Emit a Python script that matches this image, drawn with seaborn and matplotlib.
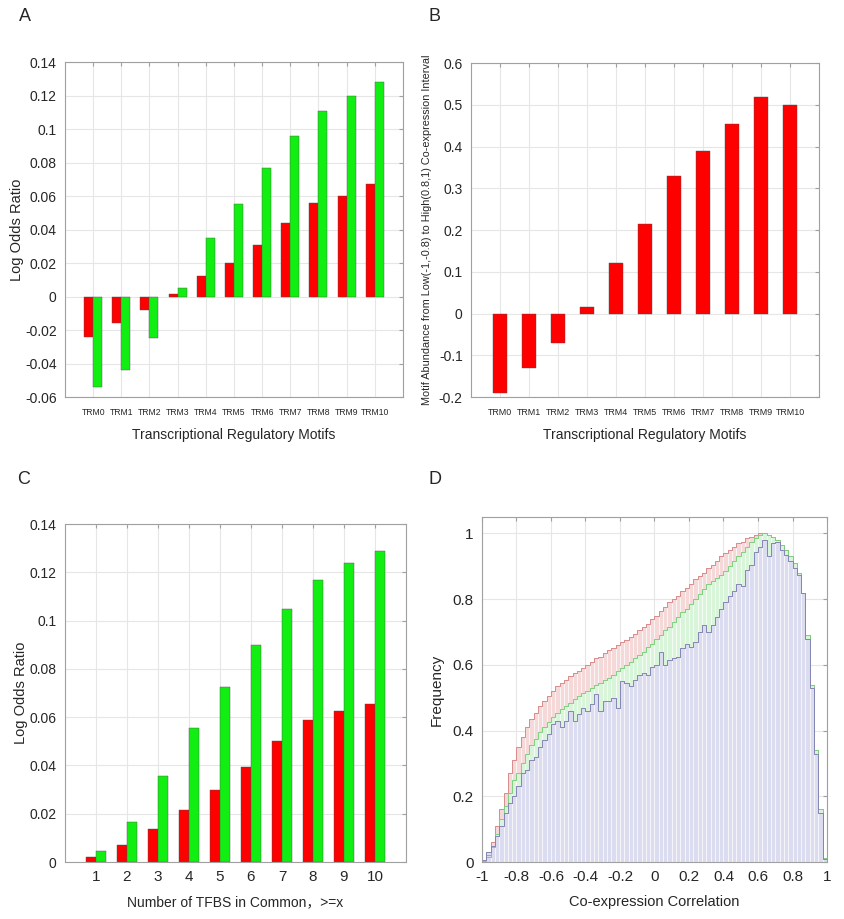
import numpy as np
import pandas as pd
import matplotlib
matplotlib.use("Agg")
import matplotlib.pyplot as plt
from matplotlib.ticker import FuncFormatter
import seaborn as sns

# Panel A: log odds ratio per motif
motifs = ["TRM0", "TRM1", "TRM2", "TRM3", "TRM4", "TRM5", "TRM6", "TRM7", "TRM8", "TRM9", "TRM10"]
a_red = [-0.024, -0.016, -0.008, 0.0015, 0.012, 0.020, 0.031, 0.044, 0.056, 0.060, 0.067]
a_green = [-0.054, -0.044, -0.025, 0.005, 0.035, 0.055, 0.077, 0.096, 0.111, 0.120, 0.128]

# Panel B: motif abundance shift
b_vals = [-0.19, -0.13, -0.07, 0.015, 0.122, 0.214, 0.33, 0.389, 0.455, 0.518, 0.499]

# Panel C: number of TFBS in common
tfbs = ["1", "2", "3", "4", "5", "6", "7", "8", "9", "10"]
c_red = [0.002, 0.007, 0.0135, 0.0215, 0.030, 0.0395, 0.050, 0.059, 0.0625, 0.0655]
c_green = [0.0045, 0.0165, 0.0355, 0.0555, 0.0725, 0.0897, 0.1047, 0.1167, 0.1237, 0.129]

# Panel D: normalised co-expression histograms, bins of 0.025 from -1 to 1
d_edges = np.linspace(-1, 1, 81).tolist()
d_red = [0.005, 0.02, 0.06, 0.11, 0.16, 0.21, 0.27, 0.31,
         0.35, 0.38, 0.41, 0.435, 0.455, 0.475, 0.49, 0.505,
         0.52, 0.535, 0.545, 0.555, 0.565, 0.575, 0.58, 0.59,
         0.60, 0.61, 0.62, 0.625, 0.635, 0.645, 0.65, 0.66,
         0.67, 0.675, 0.685, 0.695, 0.705, 0.715, 0.725, 0.74,
         0.75, 0.765, 0.775, 0.79, 0.80, 0.81, 0.825, 0.835,
         0.845, 0.86, 0.87, 0.88, 0.895, 0.905, 0.915, 0.93,
         0.94, 0.95, 0.96, 0.97, 0.975, 0.985, 0.99, 0.995,
         1.0, 1.0, 0.995, 0.99, 0.98, 0.965, 0.95, 0.93,
         0.91, 0.88, 0.82, 0.69, 0.54, 0.34, 0.16, 0.012]
d_green = [0.003, 0.015, 0.045, 0.085, 0.13, 0.17, 0.21, 0.25,
           0.27, 0.30, 0.33, 0.355, 0.375, 0.395, 0.41, 0.425,
           0.44, 0.455, 0.465, 0.475, 0.485, 0.495, 0.505, 0.515,
           0.52, 0.53, 0.54, 0.545, 0.555, 0.56, 0.57, 0.58,
           0.59, 0.60, 0.61, 0.62, 0.63, 0.64, 0.655, 0.665,
           0.68, 0.69, 0.705, 0.715, 0.73, 0.745, 0.76, 0.77,
           0.785, 0.80, 0.815, 0.83, 0.845, 0.855, 0.865, 0.875,
           0.885, 0.90, 0.915, 0.93, 0.945, 0.96, 0.975, 0.985,
           0.995, 1.0, 0.995, 0.99, 0.98, 0.965, 0.95, 0.93,
           0.91, 0.88, 0.82, 0.69, 0.54, 0.34, 0.16, 0.012]
d_blue = [0.006, 0.03, 0.05, 0.08, 0.11, 0.15, 0.18, 0.20,
          0.23, 0.27, 0.28, 0.31, 0.32, 0.35, 0.37, 0.39,
          0.42, 0.43, 0.41, 0.43, 0.46, 0.43, 0.45, 0.47,
          0.46, 0.48, 0.51, 0.46, 0.49, 0.49, 0.50, 0.47,
          0.55, 0.545, 0.535, 0.555, 0.57, 0.575, 0.57, 0.595,
          0.60, 0.64, 0.60, 0.615, 0.62, 0.625, 0.65, 0.665,
          0.655, 0.67, 0.70, 0.72, 0.70, 0.72, 0.745, 0.77,
          0.79, 0.81, 0.825, 0.845, 0.84, 0.89, 0.905, 0.945,
          0.96, 0.98, 0.93, 0.97, 0.975, 0.95, 0.935, 0.915,
          0.895, 0.875, 0.82, 0.68, 0.53, 0.33, 0.15, 0.01]

sns.set_style("white")
plt.rcParams['font.family'] = ['Liberation Sans', 'Noto Sans CJK SC', 'DejaVu Sans']

RED = "#ff0000"
GREEN = "#11ee11"
GRID = "#e6e6e6"

fig = plt.figure(figsize=(8.45, 9.19), dpi=100)
ax_a = fig.add_axes([0.0769, 0.568, 0.400, 0.3645])
ax_b = fig.add_axes([0.5574, 0.568, 0.4118, 0.3634])
ax_c = fig.add_axes([0.0769, 0.062, 0.4035, 0.3678])
ax_d = fig.add_axes([0.5704, 0.062, 0.4083, 0.3754])

tick_fmt = FuncFormatter(lambda v, p: "%g" % (round(v, 4) + 0.0))


def style_axes(ax, size=10):
    ax.set_axisbelow(True)
    ax.grid(True, color=GRID, linewidth=0.8)
    for s in ax.spines.values():
        s.set_color("#a0a0a0")
        s.set_linewidth(0.8)
    ax.tick_params(direction="in", length=3, color="#a0a0a0", top=True, right=True,
                   labelsize=size, pad=6)
    ax.yaxis.set_major_formatter(tick_fmt)


# A
df_a = pd.DataFrame({"motif": motifs * 2, "value": a_red + a_green,
                     "kind": ["red"] * 11 + ["green"] * 11})
sns.barplot(data=df_a, x="motif", y="value", hue="kind", palette=[RED, GREEN],
            width=0.64, legend=False, ax=ax_a, edgecolor="#505050", linewidth=0.3,
            saturation=1)
ax_a.set_xlim(-1, 11)
ax_a.set_ylim(-0.06, 0.14)
ax_a.set_yticks(np.arange(-0.06, 0.1401, 0.02))
style_axes(ax_a)
ax_a.tick_params(axis="x", labelsize=6.2, pad=8)
ax_a.set_xlabel("Transcriptional Regulatory Motifs", fontsize=10, labelpad=8)
ax_a.set_ylabel("Log Odds Ratio", fontsize=10.5, labelpad=1)

# B
df_b = pd.DataFrame({"motif": motifs, "value": b_vals})
sns.barplot(data=df_b, x="motif", y="value", color=RED, width=0.46, ax=ax_b,
            edgecolor="#505050", linewidth=0.3, saturation=1)
ax_b.set_xlim(-1, 11)
ax_b.set_ylim(-0.2, 0.6)
ax_b.set_yticks(np.arange(-0.2, 0.601, 0.1))
style_axes(ax_b)
ax_b.tick_params(axis="x", labelsize=6.4, pad=8)
ax_b.set_xlabel("Transcriptional Regulatory Motifs", fontsize=10, labelpad=8)
ax_b.set_ylabel("Motif Abundance from Low(-1,-0.8) to High(0.8,1) Co-expression Interval",
                fontsize=7.8, labelpad=5)

# C
df_c = pd.DataFrame({"n": tfbs * 2, "value": c_red + c_green,
                     "kind": ["red"] * 10 + ["green"] * 10})
sns.barplot(data=df_c, x="n", y="value", hue="kind", palette=[RED, GREEN],
            width=0.64, legend=False, ax=ax_c, edgecolor="#505050", linewidth=0.3,
            saturation=1)
ax_c.set_xlim(-1, 10)
ax_c.set_ylim(0, 0.14)
ax_c.set_yticks(np.arange(0, 0.1401, 0.02))
style_axes(ax_c)
ax_c.tick_params(axis="x", labelsize=11)
ax_c.set_xlabel("Number of TFBS in Common\uff0c>=x", fontsize=10, labelpad=8)
ax_c.set_ylabel("Log Odds Ratio", fontsize=10.5, labelpad=1)

# D
centers = [(d_edges[i] + d_edges[i + 1]) / 2 for i in range(len(d_edges) - 1)]
for vals, fill, line in [(d_red, "#f5d9d9", "#d98a8a"),
                         (d_green, "#d9f5d9", "#7fcf7f"),
                         (d_blue, "#dcdcf0", "#8585b5")]:
    df_d = pd.DataFrame({"r": centers, "w": vals})
    sns.histplot(data=df_d, x="r", weights="w", bins=d_edges, ax=ax_d, color=fill,
                 alpha=1, edgecolor="white", linewidth=0.4, element="bars")
    sns.histplot(data=df_d, x="r", weights="w", bins=d_edges, ax=ax_d, element="step",
                 fill=False, color=line, linewidth=0.7)
ax_d.set_xlim(-1, 1)
ax_d.set_ylim(0, 1.05)
ax_d.set_xticks(np.arange(-1, 1.01, 0.2))
ax_d.set_yticks(np.arange(0, 1.01, 0.2))
style_axes(ax_d, size=11)
ax_d.xaxis.set_major_formatter(tick_fmt)
ax_d.set_xlabel("Co-expression Correlation", fontsize=10.5, labelpad=8)
ax_d.set_ylabel("Frequency", fontsize=11, labelpad=6)

# panel letters
for x, y, t in [(0.022, 0.982, "A"), (0.507, 0.982, "B"),
                (0.020, 0.478, "C"), (0.507, 0.478, "D")]:
    fig.text(x, y, t, fontsize=13, va="center", ha="left")

fig.savefig("out.png", dpi=100)
